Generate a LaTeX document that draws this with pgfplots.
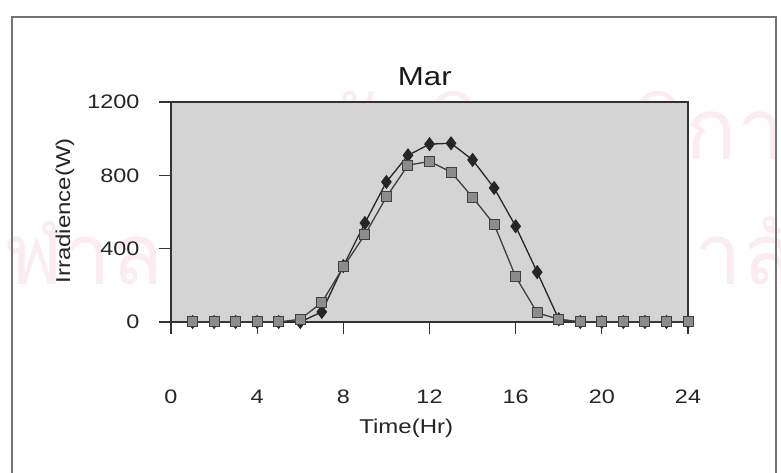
\documentclass[border=0pt]{standalone}
\usepackage{fontspec}
\setmainfont{Liberation Sans}[FakeStretch=1.2]
\newfontfamily\thaifont[Script=Thai]{Loma}
\usepackage{pgfplots}
\pgfplotsset{compat=1.18}
\definecolor{wm}{RGB}{250,236,242}
\begin{document}
\begin{tikzpicture}
\useasboundingbox (0pt,0pt) rectangle (781pt,473pt);
\fill[white] (0pt,0pt) rectangle (781pt,473pt);
\node[text=wm, anchor=base, inner sep=0pt, font=\thaifont\fontsize{85}{85}\selectfont] at (500pt,313pt) {สถาบันวิทยบริการ};
\node[text=wm, anchor=base, inner sep=0pt, font=\thaifont\fontsize{85}{85}\selectfont] at (400pt,188pt) {จุฬาลงกรณ์มหาวิทยาลัย};
\draw[black!55, line width=1.2pt] (12pt,0pt) -- (12pt,456pt) -- (776pt,456pt) -- (776pt,0pt);
\begin{axis}[
  at={(171pt,151pt)}, anchor=south west,
  scale only axis, width=517pt, height=220pt,
  xmin=0, xmax=24, ymin=0, ymax=1200,
  xtick={0,4,...,24}, ytick={0,400,800,1200},
  tick pos=left,
  axis background/.style={fill=black!17},
  axis line style={black!80, line width=1.2pt},
  tick style={black!80, line width=1.2pt},
  tick align=outside, major tick length=12pt,
  /pgf/number format/assume math mode=true,
  /pgf/number format/1000 sep={},
  ticklabel style={font=\fontsize{19.5}{20}\selectfont, text=black!85},
  yticklabel style={anchor=east, xshift=-16pt},
  xticklabel style={anchor=center, yshift=-63pt},
  xlabel={Time(Hr)}, ylabel={Irradience(W)}, title={Mar},
  xlabel style={at={(axis description cs:0.455,-0.482)}, anchor=center, font=\fontsize{20}{22}\selectfont, text=black!85},
  ylabel style={at={(axis description cs:-0.205,0.505)}, anchor=center, rotate=0, font=\fontsize{20}{22}\selectfont, text=black!85},
  title style={at={(axis description cs:0.491,1.086)}, anchor=center, font=\fontsize{26}{28}\selectfont, text=black!90},
  clip=false,
]
\addplot[black!85, line width=1.3pt, mark=diamond*, mark size=6.5pt, mark options={fill=black!85, draw=black!85, line width=0.8pt}] coordinates {
(1,0) (2,0) (3,0) (4,0) (5,0) (6,0) (7,55) (8,305) (9,540) (10,764) (11,909) (12,970)
(13,975) (14,884) (15,731) (16,522) (17,272) (18,15) (19,0) (20,0) (21,0) (22,0) (23,0) (24,0)};
\addplot[black!75, line width=1.3pt, mark=square*, mark size=5pt, mark options={fill=black!45, draw=black!75, line width=1pt}] coordinates {
(1,0) (2,0) (3,0) (4,0) (5,0) (6,15) (7,106) (8,300) (9,476) (10,682) (11,855) (12,876)
(13,818) (14,680) (15,533) (16,247) (17,50) (18,15) (19,0) (20,0) (21,0) (22,0) (23,0) (24,0)};
\draw[black!80, line width=1.2pt] (axis cs:0,400) -- ++(-12pt,0pt)
  (axis cs:0,800) -- ++(-12pt,0pt) (axis cs:0,1200) -- ++(-12pt,0pt) (axis cs:0,0) -- ++(-12pt,0pt);
\end{axis}
\end{tikzpicture}
\end{document}
